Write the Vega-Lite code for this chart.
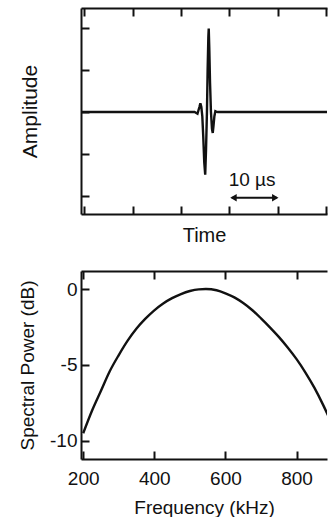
{
  "$schema": "https://vega.github.io/schema/vega-lite/v6.json",
  "padding": {"left": 18, "top": 7, "right": 0, "bottom": 0},
  "spacing": 25,
  "config": {
    "view": {"stroke": null},
    "font": "Liberation Sans",
    "axis": {
      "domainColor": "#111", "domainWidth": 2, "tickColor": "#111", "tickWidth": 2,
      "tickSize": -8, "labelColor": "#111", "titleColor": "#111", "labelFont": "Liberation Sans",
      "titleFont": "Liberation Sans", "titleFontWeight": "normal", "grid": false,
      "labelFontSize": 19, "titleFontSize": 19
    }
  },
  "datasets": {
    "pulse": [
      {"t": -0.7, "a": 0}, {"t": 22.8, "a": 0}, {"t": 23.4, "a": -0.04}, {"t": 23.8, "a": 0.12},
      {"t": 24.0, "a": 0.21}, {"t": 24.2, "a": 0.12}, {"t": 24.4, "a": -0.1}, {"t": 24.6, "a": -0.6},
      {"t": 24.8, "a": -1.2}, {"t": 25.0, "a": -1.5}, {"t": 25.17, "a": -0.9}, {"t": 25.36, "a": 0},
      {"t": 25.5, "a": 1.0}, {"t": 25.65, "a": 1.8}, {"t": 25.73, "a": 2.0}, {"t": 25.85, "a": 1.5},
      {"t": 26.0, "a": 0.7}, {"t": 26.19, "a": 0}, {"t": 26.4, "a": -0.4}, {"t": 26.56, "a": -0.5},
      {"t": 26.7, "a": -0.35}, {"t": 26.9, "a": -0.1}, {"t": 27.1, "a": 0.02}, {"t": 27.3, "a": 0.01},
      {"t": 27.6, "a": 0}, {"t": 50.3, "a": 0}
    ],
    "arrow": [{"t1": 30.5, "t2": 39.8, "a": -2.05}],
    "heads": [{"t": 30.85, "a": -2.05, "dir": "triangle-left"}, {"t": 39.5, "a": -2.05, "dir": "triangle-right"}],
    "label": [{"t": 34.7, "a": -1.78, "txt": "10 µs"}],
    "spec": [
      {"f": 200, "p": -9.5}, {"f": 225, "p": -8.0}, {"f": 250, "p": -6.7}, {"f": 275, "p": -5.4},
      {"f": 300, "p": -4.35}, {"f": 325, "p": -3.4}, {"f": 350, "p": -2.6}, {"f": 375, "p": -1.95},
      {"f": 400, "p": -1.4}, {"f": 425, "p": -0.95}, {"f": 450, "p": -0.6}, {"f": 475, "p": -0.33},
      {"f": 500, "p": -0.13}, {"f": 525, "p": -0.02}, {"f": 545, "p": 0}, {"f": 575, "p": -0.08},
      {"f": 600, "p": -0.28}, {"f": 625, "p": -0.55}, {"f": 650, "p": -0.92}, {"f": 675, "p": -1.38},
      {"f": 700, "p": -1.93}, {"f": 725, "p": -2.52}, {"f": 750, "p": -3.15}, {"f": 775, "p": -3.85},
      {"f": 800, "p": -4.62}, {"f": 825, "p": -5.5}, {"f": 850, "p": -6.5}, {"f": 875, "p": -7.65},
      {"f": 890, "p": -8.4}
    ]
  },
  "vconcat": [
    {
      "width": 246,
      "height": 206,
      "resolve": {"axis": {"x": "independent", "y": "independent"}},
      "layer": [
        {
          "data": {"name": "pulse"},
          "mark": {"type": "line", "color": "#111", "strokeWidth": 2.4, "clip": true},
          "encoding": {
            "x": {"field": "t", "type": "quantitative", "scale": {"domain": [-0.7, 50.2], "nice": false, "zero": false},
                  "axis": {"orient": "bottom", "title": "Time", "labels": false, "values": [0, 10, 20, 30, 40, 50], "titlePadding": 10, "titleFontSize": 20}},
            "y": {"field": "a", "type": "quantitative", "scale": {"domain": [-2.44, 2.49], "nice": false, "zero": false},
                  "axis": {"title": "Amplitude", "labels": false, "values": [-2, -1, 0, 1, 2], "titlePadding": 40, "titleFontSize": 21}}
          }
        },
        {
          "data": {"name": "arrow"},
          "mark": {"type": "rule", "color": "#111", "strokeWidth": 2},
          "encoding": {
            "x": {"field": "t1", "type": "quantitative", "axis": {"orient": "top", "title": null, "labels": false, "values": [0, 10, 20, 30, 40, 50]}},
            "x2": {"field": "t2"},
            "y": {"field": "a", "type": "quantitative", "axis": null}
          }
        },
        {
          "data": {"name": "heads"},
          "mark": {"type": "point", "filled": true, "color": "#111", "size": 55, "opacity": 1},
          "encoding": {
            "x": {"field": "t", "type": "quantitative", "axis": null},
            "y": {"field": "a", "type": "quantitative", "axis": null},
            "shape": {"field": "dir", "type": "nominal", "scale": null, "legend": null}
          }
        },
        {
          "data": {"name": "label"},
          "mark": {"type": "text", "color": "#111", "fontSize": 19, "font": "Liberation Sans", "baseline": "alphabetic", "align": "center"},
          "encoding": {
            "x": {"field": "t", "type": "quantitative", "axis": null},
            "y": {"field": "a", "type": "quantitative", "axis": null},
            "text": {"field": "txt"}
          }
        }
      ]
    },
    {
      "width": 246,
      "height": 188,
      "resolve": {"axis": {"x": "independent"}},
      "layer": [
        {
          "data": {"name": "spec"},
          "mark": {"type": "line", "color": "#111", "strokeWidth": 2.4, "clip": true, "interpolate": "monotone"},
          "encoding": {
            "x": {"field": "f", "type": "quantitative", "scale": {"domain": [193.8, 885.6], "nice": false, "zero": false},
                  "axis": {"orient": "bottom", "title": "Frequency (kHz)", "values": [200, 400, 600, 800], "labelPadding": 18, "titlePadding": 10}},
            "y": {"field": "p", "type": "quantitative", "scale": {"domain": [-11.2, 1.19], "nice": false, "zero": false},
                  "axis": {"title": "Spectral Power (dB)", "values": [0, -5, -10], "labelExpr": "'' + datum.value", "labelPadding": 12, "titlePadding": 12}}
          }
        },
        {
          "data": {"name": "spec"},
          "mark": {"type": "line", "strokeOpacity": 0},
          "encoding": {
            "x": {"field": "f", "type": "quantitative", "axis": {"orient": "top", "title": null, "labels": false, "values": [200, 400, 600, 800]}},
            "y": {"field": "p", "type": "quantitative"}
          }
        }
      ]
    }
  ]
}
